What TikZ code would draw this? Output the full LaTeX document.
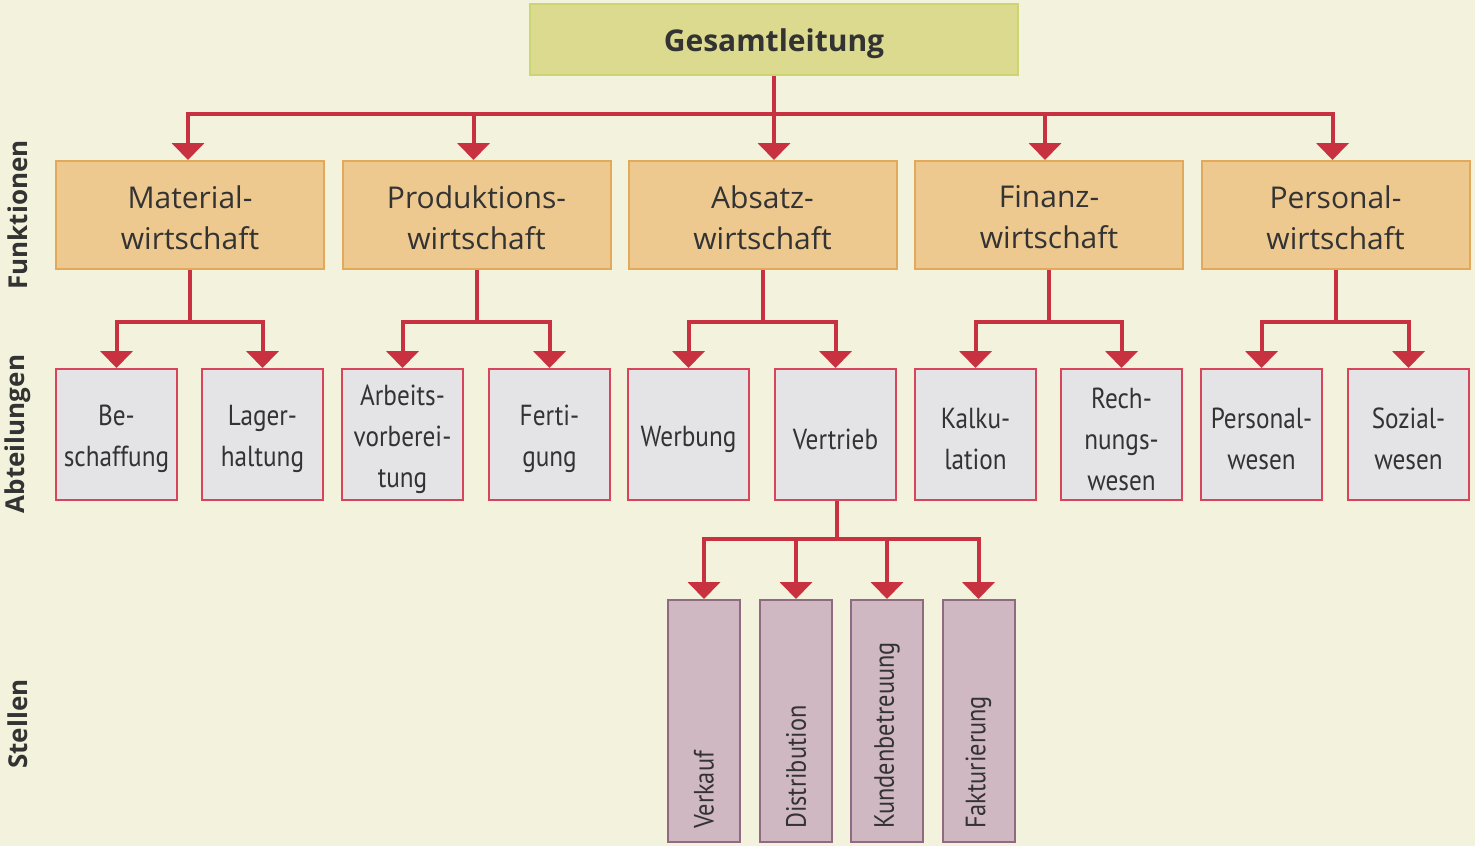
\documentclass[tikz,border=0pt]{standalone}
\usepackage{fontspec}
\setmainfont{Open Sans}
\newfontfamily\condfont[FakeStretch=0.87]{PT Sans}
\usetikzlibrary{arrows.meta}
\definecolor{bg}{HTML}{F3F2DC}
\definecolor{gesfill}{HTML}{DBDA8F}
\definecolor{gesline}{HTML}{CBD671}
\definecolor{funfill}{HTML}{EDC98F}
\definecolor{funline}{HTML}{E2A95A}
\definecolor{abtfill}{HTML}{E4E4E6}
\definecolor{abtline}{HTML}{D8455A}
\definecolor{stfill}{HTML}{D0B8C2}
\definecolor{stline}{HTML}{8F6B82}
\definecolor{conred}{HTML}{C83240}
\definecolor{ink}{HTML}{333333}
\tikzset{
  box/.style={inner sep=0pt, line width=2pt},
  boxtext/.style={inner sep=0pt, text=ink, align=center},
  gesbox/.style={box, fill=gesfill, draw=gesline, minimum width=488pt, minimum height=71pt},
  gestext/.style={boxtext, yshift=-4pt, font=\fontsize{30}{34}\selectfont\bfseries},
  funbox/.style={box, fill=funfill, draw=funline, minimum width=268pt, minimum height=108pt},
  funtext/.style={boxtext, yshift=-2.5pt, font=\fontsize{30}{41}\selectfont},
  abtbox/.style={box, fill=abtfill, draw=abtline, minimum width=121pt, minimum height=131pt},
  abttext/.style={boxtext, yshift=-4.5pt, font=\condfont\fontsize{29}{41}\selectfont},
  stbox/.style={box, fill=stfill, draw=stline, minimum width=72pt, minimum height=242pt},
  sttext/.style={inner sep=0pt, text=ink, rotate=90, anchor=west,
    font=\condfont\fontsize{28}{34}\selectfont},
  sidelabel/.style={inner sep=0pt, text=ink, rotate=90,
    font=\fontsize{26}{32}\selectfont\bfseries},
  conline/.style={draw=conred, line width=4pt},
  conarrow/.style={conline, -{Triangle[width=32pt,length=17pt]}},
}
% box node #2 with style #1 at #3, and its caption #4 as node #2-t
\newcommand\orgbox[4]{%
  \node[#1box] (#2) at (#3) {};
  \node[#1text] (#2-t) at (#2.center) {#4};
}
\begin{document}
\begin{tikzpicture}[x=1pt,y=-1pt]
  \fill[bg] (0,0) rectangle (1475,846);
  \useasboundingbox (0,0) rectangle (1475,846);

  % top level
  \orgbox{ges}{ges}{774,39.5}{Gesamtleitung}

  % functions
  \orgbox{fun}{f1}{190,215}{Material-\\wirtschaft}
  \orgbox{fun}{f2}{476.5,215}{Produktions-\\wirtschaft}
  \orgbox{fun}{f3}{762.5,215}{Absatz-\\wirtschaft}
  \orgbox{fun}{f4}{1049,215}{Finanz-\\wirtschaft}
  \orgbox{fun}{f5}{1335.5,215}{Personal-\\wirtschaft}

  % departments
  \orgbox{abt}{d1}{116.5,434.5}{Be-\\schaffung}
  \orgbox{abt}{d2}{262.5,434.5}{Lager-\\haltung}
  \orgbox{abt}{d3}{402.5,434.5}{Arbeits-\\vorberei-\\tung}
  \orgbox{abt}{d4}{549.5,434.5}{Ferti-\\gung}
  \orgbox{abt}{d5}{688.5,434.5}{Werbung}
  \orgbox{abt}{d6}{835.5,434.5}{Vertrieb}
  \orgbox{abt}{d7}{975.5,434.5}{Kalku-\\lation}
  \orgbox{abt}{d8}{1121.5,434.5}{Rech-\\nungs-\\wesen}
  \orgbox{abt}{d9}{1261.5,434.5}{Personal-\\wesen}
  \orgbox{abt}{d10}{1408.5,434.5}{Sozial-\\wesen}

  % positions below Vertrieb
  \node[stbox] (s1) at (704,721) {};
  \node[stbox] (s2) at (796,721) {};
  \node[stbox] (s3) at (887,721) {};
  \node[stbox] (s4) at (978.5,721) {};
  \node[sttext] (t1) at ([yshift=14pt]s1.south) {Verkauf};
  \node[sttext] (t2) at ([yshift=14pt]s2.south) {Distribution};
  \node[sttext] (t3) at ([yshift=14pt]s3.south) {Kundenbetreuung};
  \node[sttext] (t4) at ([yshift=14pt]s4.south) {Fakturierung};

  % level labels
  \node[sidelabel] (lf) at (18,215) {Funktionen};
  \node[sidelabel] (la) at (18,434) {Abteilungen};
  \node[sidelabel] (ls) at (18,724) {Stellen};

  % connectors: top level to functions
  \coordinate (bus) at (774,114);
  \draw[conline] (ges.south) -- (bus);
  \draw[conarrow] (bus) -| ([xshift=-2pt]f1.north);
  \draw[conarrow] (bus) -| ([xshift=-3pt]f2.north);
  \draw[conarrow] (bus) -- (bus |- f3.north);
  \draw[conarrow] (bus) -| ([xshift=-4pt]f4.north);
  \draw[conarrow] (bus) -| ([xshift=-3pt]f5.north);

  % connectors: functions to departments
  \foreach \f/\a/\b in {f1/d1/d2, f2/d3/d4, f3/d5/d6, f4/d7/d8, f5/d9/d10}{
    \draw[conline] (\f.south) -- ++(0,52) coordinate (j\f);
    \draw[conarrow] (j\f) -| (\a.north);
    \draw[conarrow] (j\f) -| (\b.north);
  }

  % connectors: Vertrieb to positions
  \draw[conline] ([xshift=1.5pt]d6.south) -- ++(0,38) coordinate (jv);
  \foreach \s in {s1,s2,s3,s4}{
    \draw[conarrow] (jv) -| (\s.north);
  }
\end{tikzpicture}
\end{document}
